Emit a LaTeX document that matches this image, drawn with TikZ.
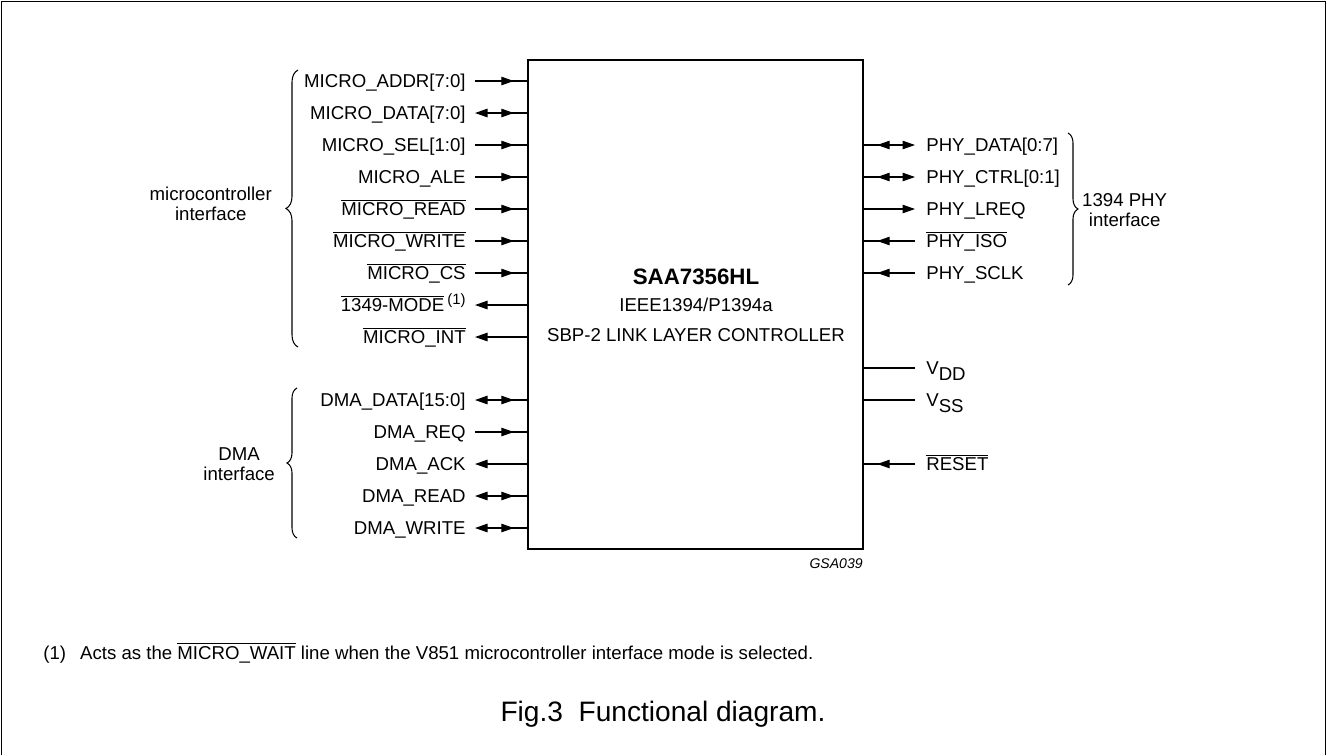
\documentclass[tikz,border=0pt]{standalone}
\usepackage{fontspec}
\setmainfont{Liberation Sans}
\usetikzlibrary{arrows.meta,decorations.pathreplacing,decorations.markings}
\newcommand{\ovl}[1]{$\overline{\mbox{#1}}$}

\begin{document}
\begin{tikzpicture}[x=0.02cm,y=-0.02cm,
    font=\fontsize{10.6}{11.5}\selectfont,
    >={Triangle[length=0.25cm,width=0.17cm]},
    wire/.style={line width=0.6pt},
    inp/.style={wire,postaction={decorate},
      decoration={markings,mark=at position -0.26cm with {\arrow{>}}}},
    outp/.style={wire,<-},
    bidir/.style={inp,<-},
    pinl/.style={anchor=east,text height=7.6pt,text depth=0pt,inner ysep=0pt,inner xsep=0.18cm},
    pinr/.style={anchor=west,text height=7.6pt,text depth=0pt,inner ysep=0pt,inner xsep=0.22cm},
    curly/.style={line width=0.6pt,decorate,decoration={brace,amplitude=#1}}]
  \useasboundingbox (0,0) rectangle (1327,755);
  \draw[line width=1pt] (1.5,755) -- (1.5,1.5) -- (1325.5,1.5) -- (1325.5,755);

  \node[draw,line width=1.4pt,minimum width=6.7cm,minimum height=9.78cm] (chip) at (695.5,304.5) {};
  \node[font=\fontsize{12.7}{14}\selectfont\bfseries] (name) at (696,277) {SAA7356HL};
  \node (std) at (696,305) {IEEE1394/P1394a};
  \node (func) at (696,335) {SBP-2 LINK LAYER CONTROLLER};

  % microcontroller side
  \node[pinl] (maddr) at (475,81) {MICRO\_ADDR[7:0]};
  \node[pinl] (mdata) at (475,113) {MICRO\_DATA[7:0]};
  \node[pinl] (msel) at (475,145) {MICRO\_SEL[1:0]};
  \node[pinl] (male) at (475,177) {MICRO\_ALE};
  \node[pinl] (mread) at (475,209) {\ovl{MICRO\_READ}};
  \node[pinl] (mwrite) at (475,241) {\ovl{MICRO\_WRITE}};
  \node[pinl] (mcs) at (475,273) {\ovl{MICRO\_CS}};
  \node[pinl] (mmode) at (475,305) {\ovl{1349-MODE}\,{\fontsize{8.5}{9}\selectfont\raisebox{4pt}{(1)}}};
  \node[pinl] (mint) at (475,337) {\ovl{MICRO\_INT}};
  \draw[inp] (maddr) -- (maddr -| chip.west);
  \draw[bidir] (mdata) -- (mdata -| chip.west);
  \draw[inp] (msel) -- (msel -| chip.west);
  \draw[inp] (male) -- (male -| chip.west);
  \draw[inp] (mread) -- (mread -| chip.west);
  \draw[inp] (mwrite) -- (mwrite -| chip.west);
  \draw[inp] (mcs) -- (mcs -| chip.west);
  \draw[outp] (mmode) -- (mmode -| chip.west);
  \draw[outp] (mint) -- (mint -| chip.west);
  \draw[curly=0.24cm] (298,347) -- (298,70);
  \node[align=center,anchor=east] (mlbl) at (278,204) {microcontroller\\interface};

  % DMA side
  \node[pinl] (ddata) at (475,400) {DMA\_DATA[15:0]};
  \node[pinl] (dreq) at (475,432) {DMA\_REQ};
  \node[pinl] (dack) at (475,464) {DMA\_ACK};
  \node[pinl] (dread) at (475,496) {DMA\_READ};
  \node[pinl] (dwrite) at (475,528) {DMA\_WRITE};
  \draw[bidir] (ddata) -- (ddata -| chip.west);
  \draw[inp] (dreq) -- (dreq -| chip.west);
  \draw[outp] (dack) -- (dack -| chip.west);
  \draw[bidir] (dread) -- (dread -| chip.west);
  \draw[bidir] (dwrite) -- (dwrite -| chip.west);
  \draw[curly=0.2cm] (297,538) -- (297,388);
  \node[align=center,anchor=east] (dlbl) at (281,464) {DMA\\interface};

  % PHY side
  \node[pinr] (pdata) at (915,145) {PHY\_DATA[0:7]};
  \node[pinr] (pctrl) at (915,177) {PHY\_CTRL[0:1]};
  \node[pinr] (plreq) at (915,209) {PHY\_LREQ};
  \node[pinr] (piso) at (915,241) {\ovl{PHY\_ISO}};
  \node[pinr] (psclk) at (915,273) {PHY\_SCLK};
  \draw[bidir] (pdata) -- (pdata -| chip.east);
  \draw[bidir] (pctrl) -- (pctrl -| chip.east);
  \draw[outp] (plreq) -- (plreq -| chip.east);
  \draw[inp] (piso) -- (piso -| chip.east);
  \draw[inp] (psclk) -- (psclk -| chip.east);
  \draw[curly=0.2cm] (1068,133) -- (1068,285);
  \node[align=center,anchor=west] (plbl) at (1076,210) {1394 PHY\\interface};

  % supply and reset
  \node[pinr] (vdd) at (915,368) {V\raisebox{-3.5pt}{DD}};
  \node[pinr] (vss) at (915,400) {V\raisebox{-3.5pt}{SS}};
  \node[pinr] (rst) at (915,464) {\ovl{RESET}};
  \draw[wire] (vdd) -- (vdd -| chip.east);
  \draw[wire] (vss) -- (vss -| chip.east);
  \draw[inp] (rst) -- (rst -| chip.east);

  \node[anchor=base east,inner sep=0pt,font=\fontsize{8}{9}\selectfont\itshape] (code) at (863,568) {GSA039};

  \node[anchor=base west,inner sep=0pt] (note) at (43,659) {(1)\hspace{8pt}Acts as the \ovl{MICRO\_WAIT} line when the V851 microcontroller interface mode is selected.};
  \node[anchor=base,inner sep=0pt,font=\fontsize{16}{18}\selectfont] (fig) at (663,721) {Fig.3\ \ Functional diagram.};
\end{tikzpicture}
\end{document}
